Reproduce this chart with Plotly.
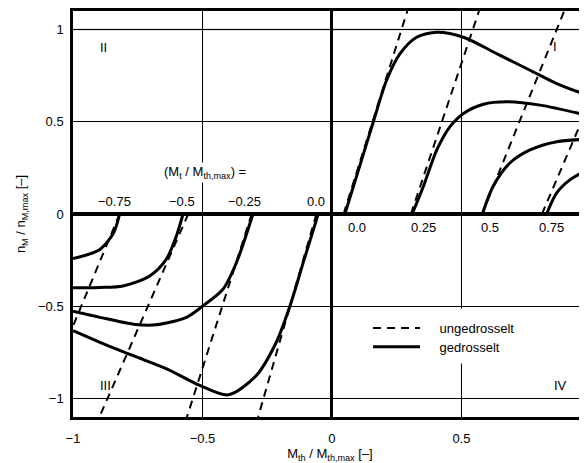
import plotly.graph_objects as go

# ---- data ----
# Quadrant I, throttled ("gedrosselt") curves
q1_c1_x = [0.05, 0.105, 0.16, 0.211, 0.263, 0.327, 0.405, 0.508, 0.636, 0.765, 0.868, 0.985]
q1_c1_y = [0.0, 0.25, 0.5, 0.725, 0.869, 0.958, 0.985, 0.958, 0.869, 0.779, 0.707, 0.644]
q1_c2_x = [0.31, 0.353, 0.405, 0.456, 0.508, 0.585, 0.675, 0.804, 0.985]
q1_c2_y = [0.0, 0.149, 0.347, 0.473, 0.545, 0.595, 0.608, 0.590, 0.535]
q1_c3_x = [0.581, 0.622, 0.686, 0.765, 0.868, 0.985]
q1_c3_y = [0.0, 0.149, 0.275, 0.347, 0.392, 0.405]
q1_c4_x = [0.829, 0.868, 0.920, 0.985]
q1_c4_y = [0.0, 0.114, 0.186, 0.239]

# Quadrant III, throttled curves
q3_c1_x = [-0.053, -0.108, -0.162, -0.215, -0.292, -0.40, -0.510, -0.638, -0.767, -0.896, -1.0]
q3_c1_y = [0.0, -0.25, -0.498, -0.695, -0.875, -0.98, -0.929, -0.839, -0.768, -0.695, -0.632]
q3_c2_x = [-0.305, -0.369, -0.421, -0.5, -0.562, -0.639, -0.69, -0.767, -0.896, -1.0]
q3_c2_y = [0.0, -0.264, -0.408, -0.5, -0.56, -0.591, -0.602, -0.597, -0.560, -0.527]
q3_c3_x = [-0.575, -0.601, -0.640, -0.704, -0.807, -0.896, -1.0]
q3_c3_y = [0.0, -0.12, -0.246, -0.336, -0.39, -0.398, -0.399]
q3_c4_x = [-0.82, -0.843, -0.896, -1.0]
q3_c4_y = [0.0, -0.102, -0.192, -0.242]

# Unthrottled ("ungedrosselt") straight lines
q1_u1_x = [0.045, 0.291]; q1_u1_y = [0.0, 1.1]
q1_u2_x = [0.305, 0.568]; q1_u2_y = [0.0, 1.1]
q1_u3_x = [0.58, 0.897];  q1_u3_y = [0.0, 1.1]
q1_u4_x = [0.811, 1.0];   q1_u4_y = [0.0, 0.62]
q3_u1_x = [-0.06, -0.285]; q3_u1_y = [0.0, -1.1]
q3_u2_x = [-0.31, -0.56];  q3_u2_y = [0.0, -1.1]
q3_u3_x = [-0.555, -0.898]; q3_u3_y = [0.0, -1.1]
q3_u4_x = [-0.82, -1.0];   q3_u4_y = [0.0, -0.607]

# Curve-parameter labels (M_t / M_th,max)
q2_label_text = ["\u22120.75", "\u22120.5", "\u22120.25", "0.0"]
q2_label_x = [-0.838, -0.58, -0.336, -0.062]
q2_label_y = [0.07, 0.07, 0.07, 0.07]
q1_label_text = ["0.0", "0.25", "0.5", "0.75"]
q1_label_x = [0.095, 0.352, 0.612, 0.849]
q1_label_y = [-0.075, -0.075, -0.075, -0.075]

quadrant_text = ["II", "I", "III", "IV"]
quadrant_x = [-0.881, 0.862, -0.873, 0.881]
quadrant_y = [0.903, 0.905, -0.929, -0.929]

x_ticks = [-1, -0.5, 0, 0.5, 1]
x_tick_text = ["\u22121", "\u22120.5", "0", "0.5", "1"]
y_ticks = [-1, -0.5, 0, 0.5, 1]
y_tick_text = ["\u22121", "\u22120.5", "0", "0.5", "1"]

legend_names = ["ungedrosselt", "gedrosselt"]

FONT = "Liberation Sans, Arial, Helvetica, sans-serif"
PAD = "\u00a0" * 4

fig = go.Figure()

dashed = [(q1_u1_x, q1_u1_y), (q1_u2_x, q1_u2_y), (q1_u3_x, q1_u3_y), (q1_u4_x, q1_u4_y),
          (q3_u1_x, q3_u1_y), (q3_u2_x, q3_u2_y), (q3_u3_x, q3_u3_y), (q3_u4_x, q3_u4_y)]
for i, (xs, ys) in enumerate(dashed):
    fig.add_trace(go.Scatter(x=xs, y=ys, mode="lines", name=PAD + legend_names[0],
                             legendgroup="u", showlegend=(i == 0), legend="legend",
                             line=dict(color="black", width=2, dash="8px,6px")))

solid = [(q1_c1_x, q1_c1_y), (q1_c2_x, q1_c2_y), (q1_c3_x, q1_c3_y), (q1_c4_x, q1_c4_y),
         (q3_c1_x, q3_c1_y), (q3_c2_x, q3_c2_y), (q3_c3_x, q3_c3_y), (q3_c4_x, q3_c4_y)]
for i, (xs, ys) in enumerate(solid):
    fig.add_trace(go.Scatter(x=xs, y=ys, mode="lines", name=PAD + legend_names[1],
                             legendgroup="g", showlegend=(i == 0), legend="legend2",
                             line=dict(color="black", width=3, shape="spline", smoothing=0.8)))

annotations = []
for t, x, y in zip(q2_label_text, q2_label_x, q2_label_y):
    annotations.append(dict(x=x, y=y, text=t, showarrow=False, font=dict(size=13)))
for t, x, y in zip(q1_label_text, q1_label_x, q1_label_y):
    annotations.append(dict(x=x, y=y, text=t, showarrow=False, font=dict(size=13)))
for t, x, y in zip(quadrant_text, quadrant_x, quadrant_y):
    annotations.append(dict(x=x, y=y, text=t, showarrow=False, font=dict(size=13)))
annotations.append(dict(x=-0.492, y=0.225, text="(M<sub>t</sub> / M<sub>th,max</sub>) =",
                        showarrow=False, font=dict(size=13), bgcolor="white"))

legend_style = dict(xanchor="left", yanchor="top", bgcolor="rgba(255,255,255,0)", borderwidth=0,
                    itemwidth=47, font=dict(size=13), tracegroupgap=0)

# page body has an 8px default margin -> figure sized so plot area lands on the reference pixels
fig.update_layout(
    width=579, height=455,
    margin=dict(l=65, r=0, t=3, b=46),
    paper_bgcolor="white", plot_bgcolor="white",
    font=dict(family=FONT, size=13, color="black"),
    annotations=annotations,
    legend=dict(x=0.574, y=0.256, **legend_style),
    legend2=dict(x=0.574, y=0.210, **legend_style),
    shapes=[
        # grey y = 1 reference line
        dict(type="line", xref="paper", x0=0, x1=1, yref="y", y0=1, y1=1,
             line=dict(color="#888888", width=1.5), layer="between"),
        # white background of the legend block (hides the grid behind it)
        dict(type="rect", xref="x", yref="y", x0=0.15, x1=0.75, y0=-0.81, y1=-0.512,
             fillcolor="white", line=dict(width=0), layer="between"),
    ],
)

fig.update_xaxes(range=[-1, 0.985], tickvals=x_ticks, ticktext=x_tick_text,
                 showgrid=True, gridcolor="black", gridwidth=1,
                 zeroline=True, zerolinecolor="black", zerolinewidth=3,
                 showline=True, linecolor="black", linewidth=2.5, mirror=True,
                 ticks="", ticklabelstandoff=8,
                 title=dict(text="M<sub>th</sub> / M<sub>th,max</sub> [\u2013]", standoff=0,
                            font=dict(size=13)))
fig.update_yaxes(range=[-1.1, 1.1], tickvals=y_ticks, ticktext=y_tick_text,
                 showgrid=True, gridcolor="black", gridwidth=1,
                 zeroline=True, zerolinecolor="black", zerolinewidth=3.5,
                 showline=True, linecolor="black", linewidth=2.5, mirror=False,
                 ticks="", ticklabelstandoff=4,
                 title=dict(text="n<sub>M</sub> / n<sub>M,max</sub> [\u2013]", standoff=10,
                            font=dict(size=13)))

fig.write_html("out.html")
